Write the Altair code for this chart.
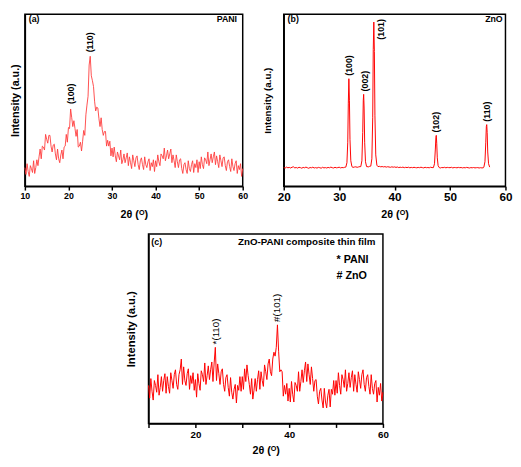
import altair as alt
import pandas as pd

FONT = "Liberation Sans"

# ---------------- (a) PANI : 2theta 10..60, step 0.25 ----------------
a_start, a_step = 10.0, 0.25
a_int = [
    19, 12, 23, 15,  10, 21, 18, 14,  26, 13, 19, 27,  21, 30, 38, 28,
    41, 40, 37, 53,  48, 44, 52, 52,  41, 35, 42, 43,  33, 27, 38, 28,
    24, 32, 37, 28,  40, 41, 53, 45,  60, 59, 79, 70,  61, 67, 59, 51,
    58, 40, 41, 45,  36, 46, 57, 52,  73, 83, 92, 124, 133, 113, 108, 102,
    87, 77, 81, 80,  69, 61, 70, 58,  52, 56, 56, 41,  47, 41, 46, 31,
    39, 30, 40, 31,  25, 35, 31, 27,  37, 23, 27, 33,  24, 29, 34, 21,
    30, 24, 18, 32,  26, 20, 29, 31,  22, 17, 26, 29,  22, 17, 30, 22,
    19, 25, 28, 16,  24, 20, 27, 15,  26, 20, 32, 25,  21, 33, 31, 28,
    39, 26, 31, 37,  28, 33, 38, 24,  32, 26, 19, 32,  25, 19, 27, 28,
    18, 13, 22, 24,  17, 13, 26, 18,  15, 22, 26, 14,  23, 19, 27, 14,
    25, 18, 30, 22,  18, 29, 27, 23,  35, 21, 27, 33,  24, 30, 35, 22,
    31, 25, 19, 32,  26, 20, 29, 30,  21, 16, 25, 27,  20, 15, 28, 20,
    16, 23, 26, 13,  21, 17, 23, 10,  18,
]
a_peak_labels = ["(100)", "(110)"]
a_peak_x = [20.5, 25.0]
a_peak_y = [84, 137]

# ---------------- (b) ZnO : baseline 20..60 step 0.25 + peaks ----------------
b_start, b_step = 20.0, 0.25
b_base = [
    19, 18.5, 19.5, 18.8,  19.2, 18.6, 19.4, 19.8,  18.7, 19.1, 18.5, 19.3,
    19.0, 18.4, 19.2, 18.8,  19.5, 18.9, 18.3, 19.1,  18.8, 19.4, 18.6, 19.0,
    18.5, 19.2, 18.9, 18.4,  19.3, 18.7, 19.0, 18.6,  19.2, 18.8, 19.5, 18.9,
    18.6, 19.3, 18.8, 19.0,  19.4, 18.7, 19.1, 18.9,  19.3, 18.8, 19.6, 19.0,
    19.4, 19.9, 19.2, 19.6,  19.8, 19.3, 19.7, 20.0,  19.5, 19.9, 20.2, 19.6,
    20.1, 19.7, 20.3, 19.9,  20.4, 19.8, 20.2, 20.5,  20.0, 20.3, 19.8, 20.1,
    19.7, 20.0, 19.5, 19.9,  19.6, 19.3, 19.8, 19.4,  19.7, 19.2, 19.6, 19.0,
    19.4, 19.1, 19.5, 18.9,  19.3, 19.0, 19.4, 18.8,  19.2, 18.9, 19.3, 19.0,
    18.8, 19.2, 18.9, 19.4,  19.0, 18.7, 19.3, 18.9,  19.1, 18.8, 19.4, 19.0,
    18.7, 19.2, 18.9, 19.3,  19.0, 18.6, 19.1, 18.9,  19.3, 18.8, 19.2, 19.0,
    18.9, 19.3, 18.7, 19.1,  19.0, 18.8, 19.2, 18.9,  19.1, 18.7, 19.0, 18.8,
    19.2, 18.9, 18.6, 19.0,  18.8, 19.1, 18.7, 18.9,  19.0, 18.6, 18.9, 18.7,
    18.8, 19.0, 18.6, 18.9,  18.7,
]
b_peak_x = [
    31.2, 31.4, 31.55, 31.65, 31.75, 31.85, 31.95, 32.1, 32.3,
    33.9, 34.1, 34.25, 34.35, 34.42, 34.5, 34.6, 34.75, 34.95,
    35.7, 35.9, 36.05, 36.15, 36.25, 36.35, 36.45, 36.6, 36.8,
    47.0, 47.2, 47.35, 47.45, 47.52, 47.6, 47.7, 47.85, 48.05,
    56.1, 56.3, 56.45, 56.55, 56.62, 56.7, 56.8, 56.95, 57.15,
]
b_peak_y = [
    19.5, 24, 45, 85, 110, 88, 48, 26, 20,
    20, 26, 55, 88, 94, 80, 45, 25, 20,
    20.5, 28, 70, 140, 168, 138, 72, 32, 21.5,
    19, 23, 38, 50, 52, 44, 29, 21, 19,
    19.5, 25, 45, 61, 63, 55, 35, 23, 19.5,
]
b_windows = [(31.2, 32.3), (33.9, 34.95), (35.7, 36.8), (47.0, 48.05), (56.1, 57.15)]
b_peak_labels = ["(100)", "(002)", "(101)", "(102)", "(110)"]
b_label_x = [31.8, 34.6, 37.6, 47.5, 56.6]
b_label_y = [113, 97, 150, 55, 66]

# ---------------- (c) ZnO-PANI composite : 10..60 step 0.25 ----------------
c_start, c_step = 10.0, 0.25
c_int = [
    39, 26, 46, 33,  24, 44, 39, 32,  50, 29, 37, 48,  33, 44, 51, 31,
    48, 38, 31, 52,  44, 36, 50, 55,  40, 35, 50, 55,  66, 40, 58, 44,
    39, 51, 56, 35,  49, 41, 52, 34,  45, 27, 51, 41,  34, 54, 50, 43,
    62, 40, 49, 59,  45, 55, 63, 43,  62, 78, 44, 61,  51, 40, 53, 56,
    40, 33, 47, 50,  37, 28, 47, 32,  25, 35, 40, 21,  39, 34, 48, 33,
    48, 35, 56, 43,  60, 49, 40, 30,  46, 25, 34, 46,  33, 45, 54, 35,
    53, 44, 38, 60,  53, 45, 61, 66,  53, 49, 66, 73,  69, 78, 101, 74,
    53, 55, 53, 28,  39, 30, 41, 23,  36, 22, 43, 30,  22, 42, 39, 33,
    53, 33, 43, 55,  42, 54, 63, 43,  61, 50, 40, 58,  46, 33, 44, 45,
    28, 20, 33, 36,  24, 16, 36, 22,  16, 29, 35, 17,  35, 30, 44, 29,
    44, 31, 52, 39,  30, 50, 45, 37,  55, 33, 41, 52,  37, 47, 54, 33,
    50, 40, 32, 53,  45, 36, 50, 55,  40, 33, 47, 50,  38, 30, 50, 36,
    30, 41, 44, 22,  37, 29, 41, 23,  32,
]
c_peak_labels = ["*(110)", "#(101)"]
c_label_x = [24.5, 37.4]
c_label_y = [81, 104]

# ---------------- build tables ----------------
df_a = pd.DataFrame({"x": [a_start + i * a_step for i in range(len(a_int))], "y": a_int})

b_rows = []
for i, v in enumerate(b_base):
    xv = b_start + i * b_step
    if not any(lo <= xv <= hi for lo, hi in b_windows):
        b_rows.append((xv, v))
b_rows += list(zip(b_peak_x, b_peak_y))
df_b = pd.DataFrame(b_rows, columns=["x", "y"]).sort_values("x")

df_c = pd.DataFrame({"x": [c_start + i * c_step for i in range(len(c_int))], "y": c_int})


def x_axis(vals, label_mod, label_size, title_size, title_pad):
    return alt.Axis(
        values=vals, labelExpr=f"datum.value % {label_mod} == 0 ? datum.label : ''",
        labelFontSize=label_size, labelFontWeight="bold", labelPadding=2,
        titleFontSize=title_size, titleFontWeight="bold", titlePadding=title_pad,
        tickSize=4, tickWidth=1.5, domainWidth=1.5, labelFlush=False,
    )


def y_axis(title_size, title_pad):
    return alt.Axis(
        labels=False, ticks=False, title="Intensity (a.u.)",
        titleFontSize=title_size, titleFontWeight="bold", titlePadding=title_pad,
        domainWidth=1.5,
    )


def panel(df, color, sw, xdom, xvals, label_mod, ymax, w, h, lab_size, tit_size, xpad, ypad,
          yt_size, peaks, corner):
    base = alt.Chart(df).mark_line(color=color, strokeWidth=sw).encode(
        x=alt.X("x:Q", scale=alt.Scale(domain=xdom, nice=False, zero=False),
                axis=x_axis(xvals, label_mod, lab_size, tit_size, xpad), title="2θ (ᴼ)"),
        y=alt.Y("y:Q", scale=alt.Scale(domain=[0, ymax], nice=False), axis=y_axis(yt_size, ypad)),
    )
    layers = [base]
    pk_df, pk_size, pk_weight = peaks
    layers.append(alt.Chart(pk_df).mark_text(
        angle=270, align="left", baseline="middle", font=FONT,
        fontSize=pk_size, fontWeight=pk_weight, color="black").encode(
        x="x:Q", y="y:Q", text="t:N"))
    for cdf, align, size in corner:
        layers.append(alt.Chart(cdf).mark_text(
            align=align, baseline="middle", font=FONT, fontSize=size,
            fontWeight="bold", color="black").encode(x="x:Q", y="y:Q", text="t:N"))
    return alt.layer(*layers).properties(width=w, height=h)


pa = panel(
    df_a, "#ff3b3b", 0.9, [10, 60], list(range(10, 61, 5)), 10, 176, 223, 176, 9, 11, 8, 5, 11,
    (pd.DataFrame({"x": a_peak_x, "y": a_peak_y, "t": a_peak_labels}), 9, "bold"),
    [(pd.DataFrame({"x": [10.9], "y": [171], "t": ["(a)"]}), "left", 9),
     (pd.DataFrame({"x": [58.7], "y": [171], "t": ["PANI"]}), "right", 9)],
)
pb = panel(
    df_b, "#ff0000", 1.0, [20, 60], list(range(20, 61, 5)), 10, 176, 227, 176, 12, 11, 6, 12, 10,
    (pd.DataFrame({"x": b_label_x, "y": b_label_y, "t": b_peak_labels}), 9, "bold"),
    [(pd.DataFrame({"x": [20.7], "y": [171], "t": ["(b)"]}), "left", 9),
     (pd.DataFrame({"x": [59.5], "y": [171], "t": ["ZnO"]}), "right", 9)],
)
pc = panel(
    df_c, "#ff0000", 1.0, [10, 60], list(range(10, 61, 10)), 20, 194, 240, 194, 10, 11, 6, 12, 11.5,
    (pd.DataFrame({"x": c_label_x, "y": c_label_y, "t": c_peak_labels}), 10, "normal"),
    [(pd.DataFrame({"x": [10.6], "y": [186], "t": ["(c)"]}), "left", 9),
     (pd.DataFrame({"x": [58.4], "y": [186], "t": ["ZnO-PANI composite thin film"]}), "right", 10),
     (pd.DataFrame({"x": [50.1, 50.1], "y": [167, 151], "t": ["* PANI", "# ZnO"]}), "left", 11)],
)

top = alt.hconcat(pa, pb, spacing=13)
chart = alt.vconcat(top, pc, spacing=13, center=True).properties(
    padding=0, background="white"
).configure_view(stroke="black", strokeWidth=1.5).configure_axis(
    grid=False, domainColor="black", tickColor="black", labelColor="black",
    titleColor="black", labelFont=FONT, titleFont=FONT,
).configure_text(font=FONT)

chart.save("out.html", embed_options={"renderer": "svg", "actions": False})
